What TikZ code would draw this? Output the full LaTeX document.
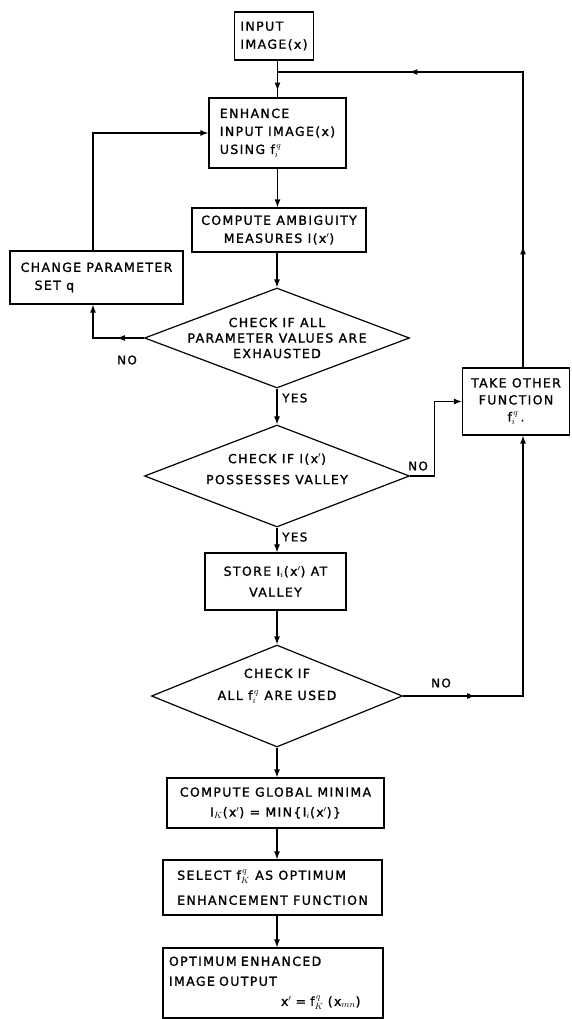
\documentclass[tikz,border=0pt]{standalone}
\usepackage{fontspec}
\setmainfont{DejaVu Sans}[LetterSpace=11,FakeBold=1.3]
\usetikzlibrary{arrows.meta,shapes.geometric,decorations.markings}
\tikzset{
  lw/.style={line width=1.2pt},
  box/.style={draw, line width=1.2pt, inner sep=3pt, font=\fontsize{12.5}{18}\selectfont},
  dia/.style={draw, diamond, line width=1.2pt, inner sep=0pt},
  txt/.style={inner sep=0pt, align=center},
  lab/.style={font=\fontsize{12}{14}\selectfont, inner sep=1pt},
  tip/.style={-{Latex[length=8pt,width=6pt]}},
  marrow/.style={postaction={decorate, decoration={markings, mark=at position #1 with {\arrow{Latex[length=8pt,width=6pt]}}}}},
}
\newcommand{\fsym}[2]{f$_{#1}^{\,#2}$}
\begin{document}
\begin{tikzpicture}[x=1pt,y=-1pt]
\useasboundingbox (0,0) rectangle (572,1019);
% boxes
\node[box, minimum width=79pt, minimum height=48pt, align=left] (inp) at (274,36) {INPUT\\IMAGE(x)};
\node[box, minimum width=137pt, minimum height=70pt, align=left] (enh) at (277.5,133) {ENHANCE\\INPUT IMAGE(x)\\USING \fsym{i}{q}};
\node[box, minimum width=174pt, minimum height=44pt, align=center] (amb) at (279,230) {COMPUTE AMBIGUITY\\MEASURES I(x$'$)};
\node[box, minimum width=173pt, minimum height=53pt, align=left] (chg) at (96.5,277.5) {CHANGE PARAMETER\\\hspace*{14pt}SET q};
\node[dia, minimum width=265pt, minimum height=100pt] (d1) at (277,338) {};
\node[txt, font=\fontsize{12.5}{15.5}\selectfont] (t1) at (d1.center) {CHECK IF ALL\\PARAMETER VALUES ARE\\EXHAUSTED};
\node[dia, minimum width=265pt, minimum height=102pt] (d2) at (277,476) {};
\node[txt, font=\fontsize{12.5}{21}\selectfont] (t2) at (277,469) {CHECK IF I(x$'$)\\POSSESSES VALLEY};
\node[box, minimum width=141pt, minimum height=57pt, align=center, font=\fontsize{12.5}{21}\selectfont] (store) at (275.5,581.5) {STORE I$_i$(x$'$) AT\\VALLEY};
\node[dia, minimum width=251pt, minimum height=102pt] (d3) at (277,696) {};
\node[txt, font=\fontsize{12.5}{22}\selectfont] (t3) at (277,686) {CHECK IF\\ALL \fsym{i}{q} ARE USED};
\node[box, minimum width=107pt, minimum height=67pt, align=center, font=\fontsize{12.5}{17}\selectfont] (take) at (516,401.5) {TAKE OTHER\\FUNCTION\\\fsym{i}{q}\,.};
\node[box, minimum width=217pt, minimum height=50pt, align=center, font=\fontsize{12.5}{20}\selectfont] (glob) at (275.5,803) {COMPUTE GLOBAL MINIMA\\I$_K$(x$'$) = MIN\{I$_i$(x$'$)\}};
\node[box, minimum width=219pt, minimum height=55pt, align=left, font=\fontsize{12.5}{25}\selectfont] (sel) at (272.5,887.5) {SELECT \fsym{K}{q} AS OPTIMUM\\ENHANCEMENT FUNCTION};
\node[box, minimum width=220pt, minimum height=70pt, text width=208pt, inner sep=5pt, align=left, font=\fontsize{12.5}{20}\selectfont] (out) at (273,983) {OPTIMUM ENHANCED\\IMAGE OUTPUT\\\hspace*{112pt}x$'$ = \fsym{K}{q} (x$_{mn}$)};
% helper coordinates
\coordinate (j) at (277.5,72);
\coordinate (lx) at (93,0);
\coordinate (rx) at (523,0);
% main column
\draw[lw, marrow=30pt] (inp.south -| j) -- (enh.north);
\draw[lw, tip] (enh.south) -- (enh.south |- amb.north);
\draw[lw, tip] (amb.south -| d1.north) -- (d1.north);
\draw[lw, tip] (d1.south) -- (d2.north);
\draw[lw, tip] (d2.south) -- (d2.south |- store.north);
\draw[lw, tip] (store.south -| d3.north) -- (d3.north);
\draw[lw, tip] (d3.south) -- (d3.south |- glob.north);
\draw[lw, tip] (glob.south -| d3.south) -- (d3.south |- sel.north);
\draw[lw, tip] (sel.south -| d3.south) -- (d3.south |- out.north);
% left loop
\draw[lw, tip, marrow=27pt] (d1.west) -| (chg.south -| lx);
\draw[lw, tip] (chg.north -| lx) |- (enh.west);
% right loops
\draw[lw, tip] (d2.east) -- ++(24,0) |- (take.west);
\draw[lw, tip, marrow=72pt] (d3.east) -| (take.south -| rx);
\draw[lw, marrow=121pt, marrow=409pt] (take.north -| rx) |- (j);
% labels
\node[lab] (no1) at (127,360) {NO};
\node[lab, anchor=west] (yes1) at (281,398) {YES};
\node[lab] (no2) at (418,466) {NO};
\node[lab, anchor=west] (yes2) at (281,537) {YES};
\node[lab] (no3) at (441,683) {NO};
\end{tikzpicture}
\end{document}
